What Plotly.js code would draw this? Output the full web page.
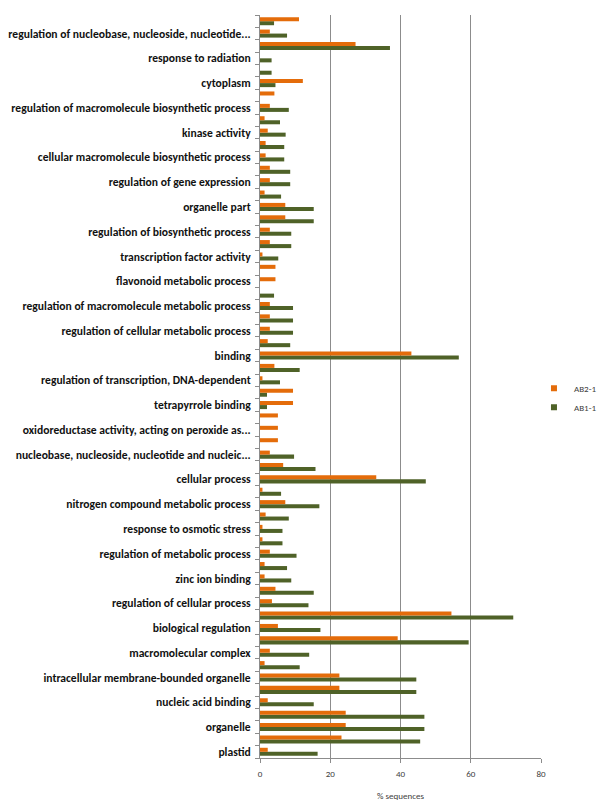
<!DOCTYPE html>
<html>
<head>
<meta charset="utf-8">
<script src="https://cdn.plot.ly/plotly-3.0.1.min.js"></script>
<style>html,body{margin:0;padding:0;background:#fff;}#chart{width:600px;height:803px;}</style>
</head>
<body>
<div id="chart"></div>
<script>
// Categories listed bottom to top; "" = category whose label is skipped on the axis
const categories = [
  "plastid", "",
  "organelle", "",
  "nucleic acid binding", "",
  "intracellular membrane-bounded organelle", "",
  "macromolecular complex", "",
  "biological regulation", "",
  "regulation of cellular process", "",
  "zinc ion binding", "",
  "regulation of metabolic process", "",
  "response to osmotic stress", "",
  "nitrogen compound metabolic process", "",
  "cellular process", "",
  "nucleobase, nucleoside, nucleotide and nucleic...", "",
  "oxidoreductase activity, acting on peroxide as...", "",
  "tetrapyrrole binding", "",
  "regulation of transcription, DNA-dependent", "",
  "binding", "",
  "regulation of cellular metabolic process", "",
  "regulation of macromolecule metabolic process", "",
  "flavonoid metabolic process", "",
  "transcription factor activity", "",
  "regulation of biosynthetic process", "",
  "organelle part", "",
  "regulation of gene expression", "",
  "cellular macromolecule biosynthetic process", "",
  "kinase activity", "",
  "regulation of macromolecule biosynthetic process", "",
  "cytoplasm", "",
  "response to radiation", "",
  "regulation of nucleobase, nucleoside, nucleotide...", ""
];

const seriesNames = ["AB2-1", "AB1-1"];

const ab2_1 = [
  2.2, 23.2, 24.4, 24.4, 2.2, 22.6, 22.6, 1.3, 2.8, 39.2,
  5.1, 54.5, 3.4, 4.4, 1.3, 1.3, 2.8, 0.7, 0.7, 1.6,
  7.2, 0.7, 33.1, 6.6, 2.8, 5.1, 5.1, 5.1, 9.4, 9.4,
  0.7, 4.1, 43.1, 2.2, 2.8, 2.8, 2.8, 0, 4.4, 4.4,
  0.7, 2.8, 2.8, 7.2, 7.2, 1.3, 2.8, 2.8, 1.6, 1.6,
  2.2, 1.3, 2.8, 4.1, 12.2, 0, 0, 27.2, 2.8, 11.1
];

const ab1_1 = [
  16.4, 45.6, 46.8, 46.8, 15.3, 44.5, 44.5, 11.3, 14.0, 59.4,
  17.2, 72.1, 13.8, 15.3, 8.9, 7.7, 10.4, 6.4, 6.4, 8.2,
  16.9, 6.0, 47.2, 15.8, 9.7, 0, 0, 0, 2.0, 2.0,
  5.7, 11.3, 56.6, 8.6, 9.4, 9.4, 9.4, 4.0, 0, 0,
  5.2, 8.9, 8.9, 15.3, 15.3, 6.0, 8.6, 8.6, 6.9, 6.9,
  7.3, 5.7, 8.2, 0, 4.4, 3.3, 3.3, 37.0, 7.7, 4.0
];

const xTicks = [0, 20, 40, 60, 80];

const pos = categories.map((c, i) => i + 1);
const labelPos = pos.filter((p, i) => categories[i] !== "");
const labelText = categories.filter(c => c !== "");

const FONT = "Calibri, Carlito, Lato, 'Liberation Sans', sans-serif";
const ORANGE = "#E46C0A", GREEN = "#4F6228";

const traces = [
  {type: "bar", orientation: "h", name: seriesNames[1], x: ab1_1, y: pos,
   marker: {color: GREEN, line: {width: 0}}, showlegend: false},
  {type: "bar", orientation: "h", name: seriesNames[0], x: ab2_1, y: pos,
   marker: {color: ORANGE, line: {width: 0}}, showlegend: false},
  // legend entries with small square keys
  {type: "scatter", mode: "markers", name: seriesNames[0], x: [null], y: [null],
   marker: {symbol: "square", size: 6, color: ORANGE}},
  {type: "scatter", mode: "markers", name: seriesNames[1], x: [null], y: [null],
   marker: {symbol: "square", size: 6, color: GREEN}}
];

const layout = {
  width: 600, height: 803,
  margin: {l: 260, r: 59, t: 15, b: 45, pad: 0, autoexpand: false},
  paper_bgcolor: "#ffffff", plot_bgcolor: "#ffffff",
  barmode: "group", bargap: 0.35, bargroupgap: 0,
  showlegend: true,
  legend: {x: 0.975, y: 0.485, xanchor: "left", yanchor: "middle",
           traceorder: "normal", font: {family: FONT, size: 9, color: "#404040"},
           itemwidth: 30, tracegroupgap: 0, bgcolor: "rgba(0,0,0,0)"},
  font: {family: FONT, color: "#000"},
  xaxis: {
    range: [0, 80], tickvals: xTicks, ticktext: xTicks.map(String),
    showgrid: true, gridcolor: "#8c8c8c", gridwidth: 1,
    showline: true, linecolor: "#8c8c8c", linewidth: 1,
    zeroline: false, ticks: "outside", ticklen: 4, tickcolor: "#8c8c8c",
    ticklabelstandoff: 3,
    tickfont: {family: FONT, size: 9, color: "#404040"},
    title: {text: "% sequences", font: {family: FONT, size: 9, color: "#404040"}, standoff: 14},
    fixedrange: true, automargin: false
  },
  yaxis: {
    range: [0.5, 60.5], tickmode: "array", tickvals: labelPos, ticktext: labelText,
    showgrid: false, zeroline: false,
    showline: true, linecolor: "#8c8c8c", linewidth: 1,
    ticks: "", ticklabelstandoff: 6,
    tickfont: {family: FONT, size: 11.6, color: "#111", weight: "bold"},
    minor: {tick0: 0.5, dtick: 1, ticks: "outside", ticklen: 4, tickcolor: "#8c8c8c", showgrid: false},
    fixedrange: true, automargin: false
  }
};

Plotly.newPlot("chart", traces, layout, {displayModeBar: false, staticPlot: true});
</script>
</body>
</html>
